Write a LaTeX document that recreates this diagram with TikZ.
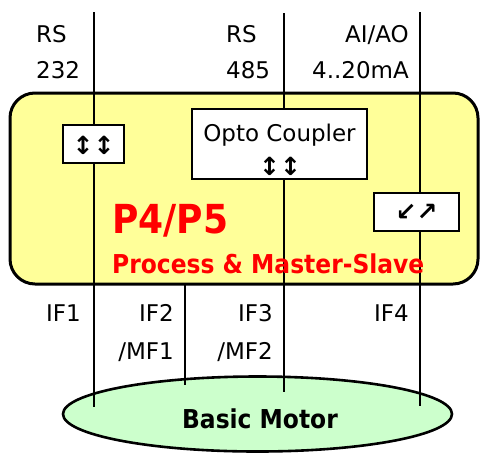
\documentclass[tikz,border=0pt]{standalone}
\usepackage{fontspec}
\setmainfont{DejaVu Sans}
\newfontfamily\symf{DejaVu Sans}
\newfontfamily\bcond{DejaVu Sans Condensed}
\usetikzlibrary{shapes.geometric}
\definecolor{boxyellow}{HTML}{FFFF99}
\definecolor{motorgreen}{HTML}{CCFFCC}
\definecolor{redtxt}{HTML}{FF0000}
\tikzset{
  lbl/.style={font=\fontsize{23}{27}\selectfont, inner sep=0pt, anchor=base west},
  lblr/.style={font=\fontsize{23}{27}\selectfont, inner sep=0pt, anchor=base east},
  arr/.style={font=\symf\bfseries\fontsize{25}{27}\selectfont, inner sep=0pt},
  wbox/.style={draw, fill=white, line width=2.2pt, inner sep=0pt},
  wire/.style={line width=2.2pt},
}
\begin{document}
\begin{tikzpicture}[x=1pt,y=-1pt]
\useasboundingbox (0,0) rectangle (486,453);
% coordinates for wires
\coordinate (t1) at (94,12);
\coordinate (t2) at (284,13);
\coordinate (t3) at (420,12);
\coordinate (b1) at (94,407);
\coordinate (b2) at (185,385);
\coordinate (b3) at (284,392);
\coordinate (b4) at (420,406);
\coordinate (u2) at (185,284);
% motor
\node[ellipse, draw, line width=2.6pt, fill=motorgreen, minimum width=389pt, minimum height=75pt] (motor) at (257.5,414) {};
% yellow box
\draw[line width=3pt, fill=boxyellow, rounded corners=25pt] (10,93) rectangle (478,284);
% wires
\draw[wire] (t1) -- (b1);
\draw[wire] (t2) -- (b3);
\draw[wire] (t3) -- (b4);
\draw[wire] (u2) -- (b2);
% boxes
\node[wbox, minimum width=61pt, minimum height=38pt] (sb1) at (93.5,144) {};
\node[arr] (sb1a) at (93.5,145) {↕↕};
\node[wbox, minimum width=175pt, minimum height=70pt] (opto) at (279.5,144) {};
\node[inner sep=0pt, anchor=base, font=\fontsize{23}{27}\selectfont] (optot) at (279.5,141) {Opto Coupler};
\node[arr] (optoa) at (280,166) {↕↕};
\node[wbox, minimum width=85pt, minimum height=38pt] (sb3) at (416.5,212) {};
\node[arr] (sb3a) at (416.5,212) {↙↗};
% red text
\node[anchor=base west, inner sep=0pt, text=redtxt, font=\bcond\bfseries\fontsize{40}{44}\selectfont] (p45) at (112,233) {P4/P5};
\node[anchor=base west, inner sep=0pt, text=redtxt, font=\bcond\bfseries\fontsize{26}{28}\selectfont] (proc) at (112,273) {Process \& Master-Slave};
% top labels
\node[lbl] (rs1) at (36,42) {RS};
\node[lbl] (rs1b) at (36,78) {232};
\node[lbl] (rs2) at (226,42) {RS};
\node[lbl] (rs2b) at (226,78) {485};
\node[lblr] (aiao) at (409,42) {AI/AO};
\node[lblr] (aiaob) at (409,78) {4..20mA};
% bottom labels
\node[lblr] (if1) at (81,321) {IF1};
\node[lblr] (if2) at (174,321) {IF2};
\node[lblr] (mf1) at (174,359) {/MF1};
\node[lblr] (if3) at (273,321) {IF3};
\node[lblr] (mf2) at (273,359) {/MF2};
\node[lblr] (if4) at (409,321) {IF4};
% motor text
\node[inner sep=0pt, anchor=base, font=\bcond\bfseries\fontsize{26}{28}\selectfont] (mt) at (260,428) {Basic Motor};
\end{tikzpicture}
\end{document}
